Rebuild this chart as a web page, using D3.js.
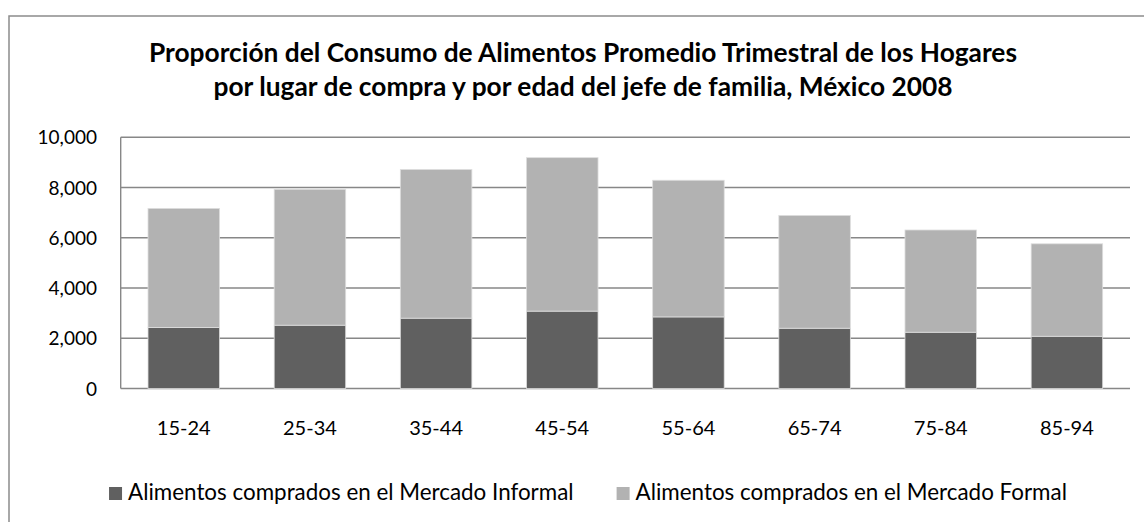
<!DOCTYPE html>
<html>
<head>
<meta charset="utf-8">
<script src="https://cdn.jsdelivr.net/npm/d3@7"></script>
<style>
  body { margin: 0; background: #fff; }
  text { font-family: Lato, 'Open Sans', sans-serif; fill: #000; }
</style>
</head>
<body>
<div id="chart"></div>
<script>
const width = 1144
const height = 522

const titleLines = [
    'Proporción del Consumo de Alimentos Promedio Trimestral de los Hogares',
    'por lugar de compra y por edad del jefe de familia, México 2008'
]
const ageGroups = ['15-24', '25-34', '35-44', '45-54', '55-64', '65-74', '75-84', '85-94']
const informal = [2430, 2520, 2800, 3080, 2850, 2400, 2240, 2080]
const formal = [4740, 5410, 5920, 6110, 5440, 4490, 4070, 3680]
const seriesNames = [
    'Alimentos comprados en el Mercado Informal',
    'Alimentos comprados en el Mercado Formal'
]
const yTicks = [0, 2000, 4000, 6000, 8000, 10000]

const colors = ['#606060', '#b2b2b2']
const gridColor = '#878787'

const plot = { left: 120.7, right: 1130, top: 137.3, bottom: 388.5 }

const svg = d3
    .select('#chart')
    .append('svg')
    .attr('width', width)
    .attr('height', height)

// chart area border (runs off the right and bottom edge)
svg.append('rect')
    .attr('x', 9)
    .attr('y', 16)
    .attr('width', 1160)
    .attr('height', 540)
    .attr('fill', 'none')
    .attr('stroke', '#8c8c8c')
    .attr('stroke-width', 1.5)

svg.append('g')
    .selectAll('text')
    .data(titleLines)
    .enter()
    .append('text')
    .attr('x', 583)
    .attr('y', (d, i) => 62 + i * 34)
    .attr('text-anchor', 'middle')
    .style('font-weight', 'bold')
    .style('font-size', '26.3px')
    .text(d => d)

const x = d3
    .scaleBand()
    .domain(ageGroups)
    .range([plot.left, plot.right])
    .paddingInner(0.433)
    .paddingOuter(0.2165)

const y = d3
    .scaleLinear()
    .domain([0, 10000])
    .range([plot.bottom, plot.top])

const fmt = d3.format(',')

// gridlines
svg.append('g')
    .selectAll('line')
    .data(yTicks)
    .enter()
    .append('line')
    .attr('x1', plot.left)
    .attr('x2', plot.right)
    .attr('y1', d => y(d))
    .attr('y2', d => y(d))
    .attr('stroke', gridColor)
    .attr('stroke-width', 1.4)

// stacked bars
const table = ageGroups.map((g, i) => ({ group: g, informal: informal[i], formal: formal[i] }))
const stack = d3.stack().keys(['informal', 'formal'])(table)

svg.append('g')
    .selectAll('g')
    .data(stack)
    .enter()
    .append('g')
    .attr('fill', (d, i) => colors[i])
    .selectAll('rect')
    .data(d => d)
    .enter()
    .append('rect')
    .attr('x', d => x(d.data.group))
    .attr('width', x.bandwidth())
    .attr('y', d => y(d[1]))
    .attr('height', d => y(d[0]) - y(d[1]))
    .attr('stroke', '#dedede')
    .attr('stroke-width', 0.8)

// y axis line
svg.append('line')
    .attr('x1', plot.left)
    .attr('x2', plot.left)
    .attr('y1', plot.top)
    .attr('y2', plot.bottom)
    .attr('stroke', gridColor)
    .attr('stroke-width', 1.4)

svg.append('g')
    .selectAll('text')
    .data(yTicks)
    .enter()
    .append('text')
    .attr('x', 97)
    .attr('y', d => y(d) + 7)
    .attr('text-anchor', 'end')
    .style('font-size', '19px')
    .text(d => fmt(d))

svg.append('g')
    .selectAll('text')
    .data(ageGroups)
    .enter()
    .append('text')
    .attr('x', d => x(d) + x.bandwidth() / 2)
    .attr('y', 435)
    .attr('text-anchor', 'middle')
    .style('font-size', '20px')
    .text(d => d)

// legend
const legend = svg.append('g')
const legendItems = legend
    .selectAll('g')
    .data(seriesNames)
    .enter()
    .append('g')

legendItems
    .append('rect')
    .attr('width', 13)
    .attr('height', 13)
    .attr('y', 487)
    .attr('fill', (d, i) => colors[i])

legendItems
    .append('text')
    .attr('x', 19)
    .attr('y', 499.5)
    .style('font-size', '22.4px')
    .text(d => d)

let offset = 0
const itemGap = 43
const widths = []
legendItems.each(function() {
    const w = 19 + d3.select(this).select('text').node().getComputedTextLength()
    widths.push(w)
})
const total = d3.sum(widths) + itemGap * (widths.length - 1)
let start = 588 - total / 2
legendItems.attr('transform', (d, i) => {
    const t = 'translate(' + (start + offset) + ',0)'
    offset += widths[i] + itemGap
    return t
})
</script>
</body>
</html>
